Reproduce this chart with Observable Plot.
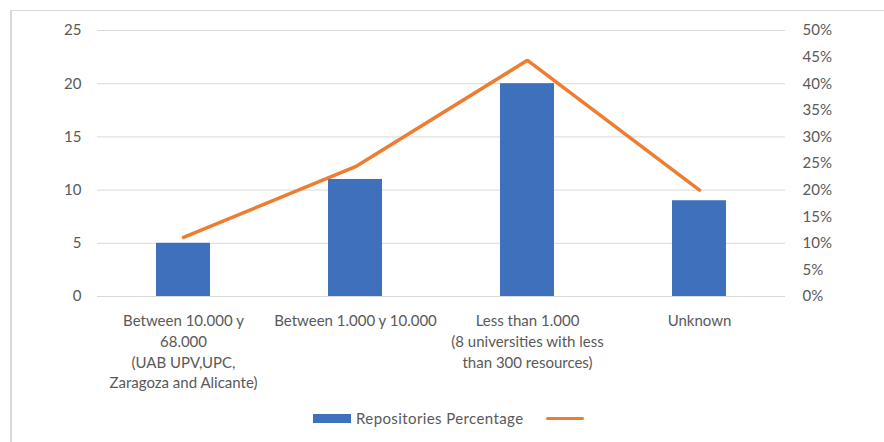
<!DOCTYPE html>
<html>
<head>
<meta charset="utf-8">
<script src="https://cdn.jsdelivr.net/npm/d3@7"></script>
<script src="https://cdn.jsdelivr.net/npm/@observablehq/plot@0.6"></script>
<style>
  html, body { margin: 0; padding: 0; background: #fff; }
  #wrap { position: relative; width: 884px; height: 442px; overflow: hidden; font-family: Lato, "Open Sans", sans-serif; }
  #frame { position: absolute; left: 10px; top: 10px; right: -5px; bottom: -5px; border-left: 2px solid #d9d9d9; border-top: 1px solid #d9d9d9; }
  #chart { position: absolute; left: 0; top: 0; }
  #legend { position: absolute; left: 0; top: 408px; width: 884px; height: 22px; font-size: 15px; letter-spacing: 0.4px; color: #595959; }
  #legend .sw { position: absolute; left: 313px; top: 6px; width: 38px; height: 9px; background: #3F70BC; }
  #legend .lb { position: absolute; left: 356px; top: 1px; white-space: nowrap; }
  #legend .ln { position: absolute; left: 546px; top: 9px; width: 38px; height: 3px; border-radius: 2px; background: #ED7D31; }
</style>
</head>
<body>
<div id="wrap">
  <div id="frame"></div>
  <div id="chart"></div>
  <div id="legend"><div class="sw"></div><div class="lb">Repositories Percentage</div><div class="ln"></div></div>
</div>
<script>
const categories = [
  "Between 10.000 y\n68.000\n(UAB UPV,UPC,\nZaragoza and Alicante)",
  "Between 1.000 y 10.000",
  "Less than 1.000\n(8 universities with less\nthan 300 resources)",
  "Unknown"
];
const repositories = [5, 11, 20, 9];
const percentage = [11.1, 24.4, 44.4, 20.0]; // %
const leftTicks = [0, 5, 10, 15, 20, 25];
const rightTicks = [0, 5, 10, 15, 20, 25, 30, 35, 40, 45, 50]; // %

const rows = categories.map((c, i) => ({cat: c, rep: repositories[i], pct: percentage[i]}));

const chart = Plot.plot({
  width: 884,
  height: 400,
  marginTop: 30,
  marginBottom: 104,
  marginLeft: 97,
  marginRight: 99,
  style: {fontFamily: "Lato, 'Open Sans', sans-serif", fontSize: "15px", color: "#595959", background: "transparent"},
  x: {domain: categories, paddingInner: 0.686, paddingOuter: 0.343, label: null},
  y: {domain: [0, 25], label: null},
  marks: [
    Plot.ruleY(leftTicks, {stroke: "#d9d9d9", strokeWidth: 1}),
    Plot.barY(rows, {x: "cat", y: "rep", fill: "#3F70BC"}),
    Plot.line(rows, {x: "cat", y: d => d.pct / 2, stroke: "#ED7D31", strokeWidth: 3.5, strokeLinecap: "round", strokeLinejoin: "miter"}),
    Plot.axisY({ticks: leftTicks, anchor: "left", tickSize: 0, tickPadding: 16, label: null, fill: "#595959", fontSize: 15}),
    Plot.axisY({ticks: rightTicks.map(t => t / 2), anchor: "right", tickSize: 0, tickPadding: 17, label: null, tickFormat: d => (d * 2) + "%", fill: "#595959", fontSize: 15}),
    Plot.axisX({tickSize: 0, tickPadding: 15, label: null, lineHeight: 1.38, fill: "#595959", fontSize: 15, textOverflow: null, lineWidth: 100})
  ]
});
document.getElementById("chart").appendChild(chart);
</script>
</body>
</html>
